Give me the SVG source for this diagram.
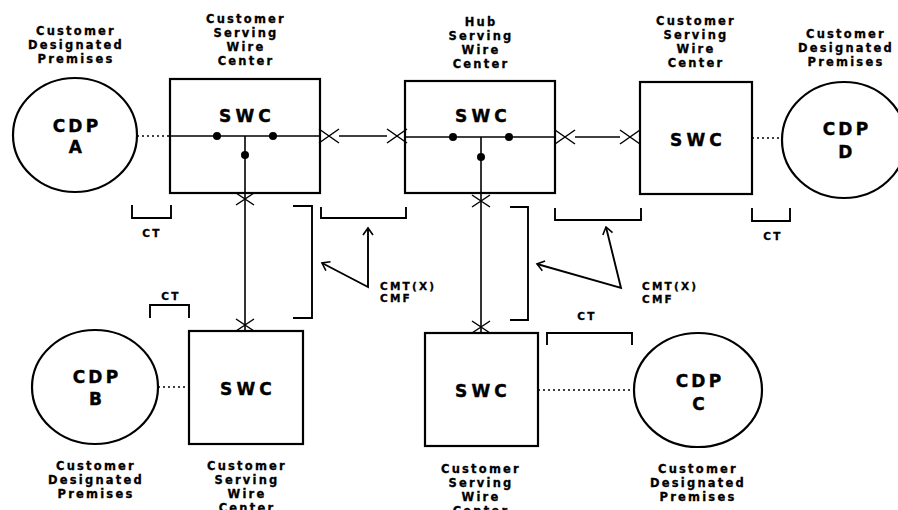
<svg xmlns="http://www.w3.org/2000/svg" xmlns:xlink="http://www.w3.org/1999/xlink" width="898" height="510" viewBox="0 0 898 510">
  <style>
    .shape { fill: none; stroke: #000; stroke-width: 2.2; }
    .wire { fill: none; stroke: #000; stroke-width: 1.6; }
    .dotted { fill: none; stroke: #000; stroke-width: 1.6; stroke-dasharray: 2 3; }
    .bracket { fill: none; stroke: #000; stroke-width: 1.9; }
    .pointer { fill: none; stroke: #000; stroke-width: 1.9; }
    .junction { fill: #000; }
    .lbl { font-family: "DejaVu Sans", Verdana, sans-serif; font-weight: bold; font-size: 11.5px; letter-spacing: 2.2px; text-anchor: middle; fill: #000; stroke: #000; stroke-width: 0.3; }
    .big { font-family: "DejaVu Sans", Verdana, sans-serif; font-weight: bold; font-size: 17px; letter-spacing: 3.2px; text-anchor: middle; fill: #000; stroke: #000; stroke-width: 0.4; }
    .swc { font-family: "DejaVu Sans", Verdana, sans-serif; font-weight: bold; font-size: 17px; letter-spacing: 4.2px; text-anchor: middle; fill: #000; stroke: #000; stroke-width: 0.4; }
    .tag { font-family: "DejaVu Sans", Verdana, sans-serif; font-weight: bold; font-size: 10.5px; letter-spacing: 2.2px; fill: #000; stroke: #000; stroke-width: 0.3; }
    .tagc { text-anchor: middle; }
  </style>
  <defs>
    <path id="xh" d="M-10,-7 L10,7 M-10,7 L10,-7" fill="none" stroke="#000" stroke-width="1.5"/>
    <path id="xv" d="M-9,-6 L9,6 M-9,6 L9,-6" fill="none" stroke="#000" stroke-width="1.5"/>
    <marker id="chev" viewBox="-8 -6 10 12" markerWidth="10" markerHeight="12" refX="0" refY="0" orient="auto-start-reverse" markerUnits="userSpaceOnUse">
      <path d="M-7,-5 L0,0 L-7,5" fill="none" stroke="#000" stroke-width="1.6"/>
    </marker>
  </defs>
  <rect width="898" height="510" fill="#fff"/>

  <!-- premises A -->
  <g id="cdp-a">
    <ellipse class="shape" cx="75" cy="135" rx="62" ry="57"/>
    <text class="big" x="77" y="132">CDP</text>
    <text class="big" x="77" y="153">A</text>
    <text class="lbl" x="76" y="35">Customer</text>
    <text class="lbl" x="76" y="49">Designated</text>
    <text class="lbl" x="76" y="63">Premises</text>
  </g>

  <!-- serving wire center for A -->
  <g id="swc-a">
    <rect class="shape" x="170" y="79" width="150" height="114"/>
    <text class="swc" x="247" y="122">SWC</text>
    <line class="wire" x1="170" y1="136" x2="320" y2="136"/>
    <line class="wire" x1="245" y1="136" x2="245" y2="193"/>
    <circle class="junction" cx="217" cy="136" r="4"/>
    <circle class="junction" cx="273" cy="136" r="4"/>
    <circle class="junction" cx="245" cy="155" r="4"/>
    <text class="lbl" x="246" y="23">Customer</text>
    <text class="lbl" x="246" y="37">Serving</text>
    <text class="lbl" x="246" y="51">Wire</text>
    <text class="lbl" x="246" y="65">Center</text>
  </g>

  <!-- hub serving wire center -->
  <g id="swc-hub">
    <rect class="shape" x="405" y="81" width="150" height="112"/>
    <text class="swc" x="483" y="122">SWC</text>
    <line class="wire" x1="405" y1="137" x2="555" y2="137"/>
    <line class="wire" x1="481" y1="137" x2="481" y2="193"/>
    <circle class="junction" cx="453" cy="137" r="4"/>
    <circle class="junction" cx="509" cy="137" r="4"/>
    <circle class="junction" cx="481" cy="157" r="4"/>
    <text class="lbl" x="481" y="26">Hub</text>
    <text class="lbl" x="481" y="40">Serving</text>
    <text class="lbl" x="481" y="54">Wire</text>
    <text class="lbl" x="481" y="68">Center</text>
  </g>

  <!-- serving wire center for D -->
  <g id="swc-d">
    <rect class="shape" x="640" y="82" width="112" height="112"/>
    <text class="swc" x="698" y="146">SWC</text>
    <text class="lbl" x="696" y="25">Customer</text>
    <text class="lbl" x="696" y="39">Serving</text>
    <text class="lbl" x="696" y="53">Wire</text>
    <text class="lbl" x="696" y="67">Center</text>
  </g>

  <!-- premises D -->
  <g id="cdp-d">
    <ellipse class="shape" cx="844" cy="140" rx="62" ry="58"/>
    <text class="big" x="847" y="135">CDP</text>
    <text class="big" x="847" y="158">D</text>
    <text class="lbl" x="846" y="38">Customer</text>
    <text class="lbl" x="846" y="52">Designated</text>
    <text class="lbl" x="846" y="66">Premises</text>
  </g>

  <!-- premises B -->
  <g id="cdp-b">
    <ellipse class="shape" cx="95" cy="387" rx="63" ry="57"/>
    <text class="big" x="97" y="383">CDP</text>
    <text class="big" x="97" y="405">B</text>
    <text class="lbl" x="96" y="470">Customer</text>
    <text class="lbl" x="96" y="484">Designated</text>
    <text class="lbl" x="96" y="498">Premises</text>
  </g>

  <!-- serving wire center for B -->
  <g id="swc-b">
    <rect class="shape" x="189" y="331" width="114" height="113"/>
    <text class="swc" x="248" y="395">SWC</text>
    <text class="lbl" x="247" y="470">Customer</text>
    <text class="lbl" x="247" y="484">Serving</text>
    <text class="lbl" x="247" y="498">Wire</text>
    <text class="lbl" x="247" y="512">Center</text>
  </g>

  <!-- serving wire center for C -->
  <g id="swc-c">
    <rect class="shape" x="425" y="333" width="113" height="113"/>
    <text class="swc" x="483" y="397">SWC</text>
    <text class="lbl" x="481" y="473">Customer</text>
    <text class="lbl" x="481" y="487">Serving</text>
    <text class="lbl" x="481" y="501">Wire</text>
    <text class="lbl" x="481" y="515">Center</text>
  </g>

  <!-- premises C -->
  <g id="cdp-c">
    <ellipse class="shape" cx="698" cy="390" rx="64" ry="57"/>
    <text class="big" x="700" y="387">CDP</text>
    <text class="big" x="700" y="410">C</text>
    <text class="lbl" x="698" y="473">Customer</text>
    <text class="lbl" x="698" y="487">Designated</text>
    <text class="lbl" x="698" y="501">Premises</text>
  </g>

  <!-- connectors: loops, trunks and cross-connect points -->
  <g id="connectors">
    <line class="dotted" x1="137" y1="136" x2="170" y2="136"/>
    <line class="dotted" x1="752" y1="138" x2="782" y2="138"/>
    <line class="dotted" x1="158" y1="387" x2="189" y2="387"/>
    <line class="dotted" x1="538" y1="390" x2="634" y2="390"/>

    <line class="wire" x1="339" y1="136" x2="387" y2="136"/>
    <line class="wire" x1="575" y1="137" x2="620" y2="137"/>
    <line class="wire" x1="245" y1="193" x2="245" y2="331"/>
    <line class="wire" x1="481" y1="193" x2="481" y2="333"/>

    <use xlink:href="#xh" x="329" y="136"/>
    <use xlink:href="#xh" x="397" y="136"/>
    <use xlink:href="#xh" x="565" y="137"/>
    <use xlink:href="#xh" x="630" y="137"/>
    <use xlink:href="#xv" x="245" y="199"/>
    <use xlink:href="#xv" x="245" y="325"/>
    <use xlink:href="#xv" x="481" y="201"/>
    <use xlink:href="#xv" x="481" y="327"/>
  </g>

  <!-- span brackets -->
  <g id="brackets">
    <path class="bracket" d="M132,205 V218 H171 V205"/>
    <path class="bracket" d="M321,207 V218 H406 V207"/>
    <path class="bracket" d="M555,208 V220 H641 V208"/>
    <path class="bracket" d="M752,208 V221 H790 V208"/>
    <path class="bracket" d="M150,318 V305 H189 V318"/>
    <path class="bracket" d="M547,345 V333 H632 V345"/>
    <path class="bracket" d="M293,206 H312 V318 H293"/>
    <path class="bracket" d="M510,207 H528 V320 H510"/>
  </g>

  <!-- span labels -->
  <g id="span-labels">
    <path class="pointer" d="M368,228 L368,287 L322,263" marker-start="url(#chev)" marker-end="url(#chev)"/>
    <path class="pointer" d="M606,227 L621,288 L537,264" marker-start="url(#chev)" marker-end="url(#chev)"/>
    <text class="tag" x="380" y="290">CMT(X)</text>
    <text class="tag" x="380" y="302">CMF</text>
    <text class="tag" x="642" y="290">CMT(X)</text>
    <text class="tag" x="642" y="303">CMF</text>
    <text class="tag tagc" x="152" y="237">CT</text>
    <text class="tag tagc" x="773" y="240">CT</text>
    <text class="tag tagc" x="171" y="300">CT</text>
    <text class="tag tagc" x="587" y="320">CT</text>
  </g>
</svg>
